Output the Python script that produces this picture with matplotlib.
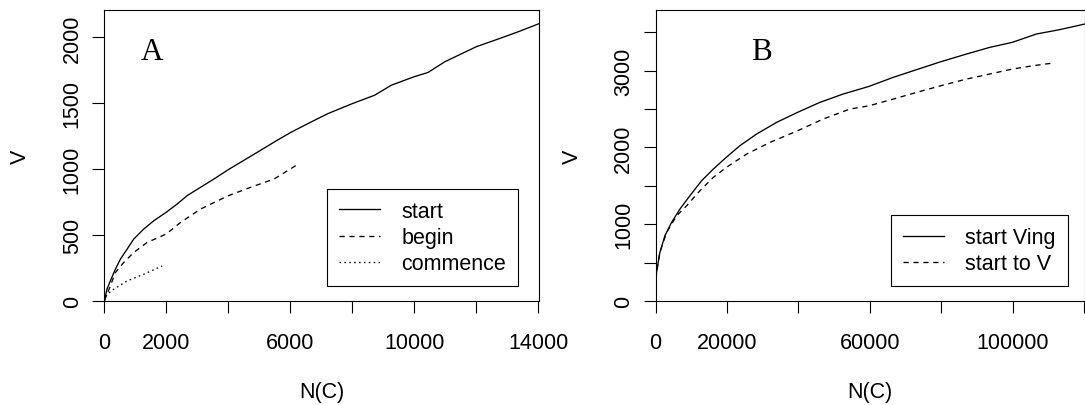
import matplotlib
matplotlib.use('Agg')
import matplotlib.pyplot as plt

# panel A: V against N(C) for the three verbs
start_x = [0, 86, 194, 356, 518, 734, 949, 1273, 1597, 1996, 2352, 2675, 3107,
           3538, 4002, 4401, 4940, 5480, 5998, 6559, 7206, 7994, 8717, 9256,
           9989, 10442, 10982, 11996, 12816, 13355, 14030]
start_y = [0, 89, 152, 241, 317, 393, 470, 546, 609, 673, 736, 800, 863,
           926, 997, 1053, 1129, 1206, 1277, 1345, 1421, 1497, 1561, 1637,
           1701, 1734, 1815, 1929, 1997, 2043, 2105]

begin_x = [0, 194, 356, 626, 949, 1381, 1996, 2460, 3107, 4002, 4725, 5480, 6181]
begin_y = [0, 114, 216, 292, 368, 444, 508, 596, 698, 799, 863, 926, 1028]

commence_x = [0, 86, 302, 734, 1273, 1866]
commence_y = [0, 51, 89, 152, 203, 266]

# panel B: two forms of "start"
ving_x = [0, 280, 1213, 2613, 4480, 6813, 9613, 12879, 16145, 19785, 23612,
          28278, 33878, 39757, 46010, 52543, 59822, 66541, 73074, 79887,
          87073, 93606, 99953, 106672, 113204, 120300]
ving_y = [152, 370, 630, 848, 1022, 1196, 1370, 1565, 1717, 1870, 2022,
          2174, 2326, 2457, 2587, 2696, 2796, 2913, 3013, 3117,
          3217, 3304, 3370, 3478, 3535, 3609]

tov_x = [0, 280, 1213, 3080, 5880, 8680, 12412, 16145, 19785, 25478, 32011,
         39757, 46943, 54409, 59822, 66541, 73074, 79887, 87073, 93606,
         99953, 105739, 111338]
tov_y = [152, 365, 630, 891, 1109, 1239, 1435, 1609, 1739, 1913, 2065,
         2217, 2370, 2500, 2543, 2630, 2717, 2804, 2891, 2957,
         3022, 3065, 3100]

a_xticks = [0, 2000, 4000, 6000, 8000, 10000, 12000, 14000]
a_xlabels = ['0', '2000', '', '6000', '', '10000', '', '14000']
a_yticks = [0, 500, 1000, 1500, 2000]
a_ylabels = ['0', '500', '1000', '1500', '2000']

b_xticks = [0, 20000, 40000, 60000, 80000, 100000, 120000]
b_xlabels = ['0', '20000', '', '60000', '', '100000', '']
b_yticks = [0, 500, 1000, 1500, 2000, 2500, 3000, 3500]
b_ylabels = ['0', '', '1000', '', '2000', '', '3000', '']

plt.rcParams['font.family'] = ['Liberation Sans', 'DejaVu Sans']
plt.rcParams['font.size'] = 15.5

W, H = 1085, 406
fig = plt.figure(figsize=(W / 100, H / 100), dpi=100)
axA = fig.add_axes([104.3 / W, 1 - 302 / H, (539.3 - 104.3) / W, (302 - 10.7) / H])
axB = fig.add_axes([655.5 / W, 1 - 302 / H, (1085 - 655.5) / W, (302 - 10.7) / H])


def style_axes(ax, xticks, xlabels, yticks, ylabels, xmax, ymax):
    ax.set_xlim(0, xmax)
    ax.set_ylim(0, ymax)
    ax.set_xticks(xticks)
    ax.set_xticklabels(xlabels)
    ax.set_yticks(yticks)
    ax.set_yticklabels(ylabels, rotation=90, va='center')
    ax.tick_params(direction='out', length=8.5, width=0.8, pad=14)
    ax.tick_params(axis='y', pad=7)
    for s in ax.spines.values():
        s.set_linewidth(0.8)
    ax.set_xlabel('N(C)', labelpad=20)
    ax.set_ylabel('V', labelpad=22)


lw = 0.95
axA.plot(start_x, start_y, color='black', lw=lw, label='start')
axA.plot(begin_x, begin_y, color='black', lw=lw, dashes=(4, 3.5), label='begin')
axA.plot(commence_x, commence_y, color='black', lw=lw, dashes=(1.2, 2.5), label='commence')
style_axes(axA, a_xticks, a_xlabels, a_yticks, a_ylabels, 14030, 2210)
axA.text(0.1097, 0.831, 'A', transform=axA.transAxes, fontsize=22.5,
         family='Liberation Serif', ha='center', va='baseline')

axB.plot(ving_x, ving_y, color='black', lw=lw, label='start Ving')
axB.plot(tov_x, tov_y, color='black', lw=lw, dashes=(4, 3.5), label='start to V')
style_axes(axB, b_xticks, b_xlabels, b_yticks, b_ylabels, 120300, 3795)
axB.text(0.247, 0.831, 'B', transform=axB.transAxes, fontsize=22.5,
         family='Liberation Serif', ha='center', va='baseline')

for ax, x in ((axA, 0.951), (axB, 0.960)):
    leg = ax.legend(loc='lower right', bbox_to_anchor=(x, 0.0505), fancybox=False,
                    framealpha=1, edgecolor='black', handlelength=1.9,
                    handletextpad=1.0, borderpad=0.55, labelspacing=0.25,
                    borderaxespad=0)
    leg.get_frame().set_linewidth(0.8)

fig.savefig('out.png', dpi=100)
